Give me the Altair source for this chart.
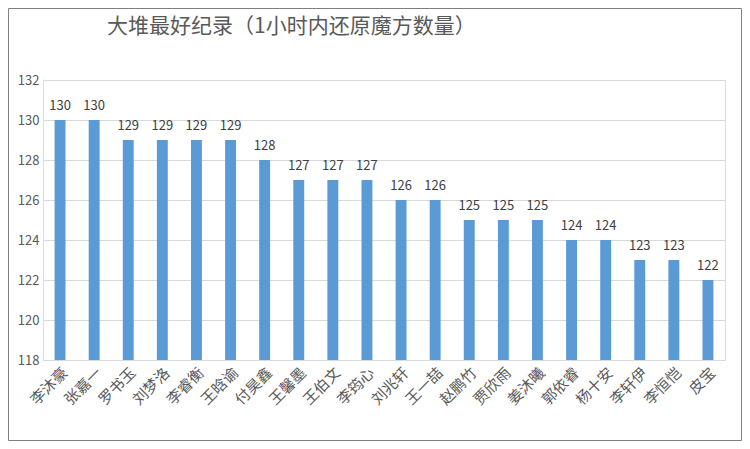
import altair as alt
import pandas as pd

names = ["李沐豪", "张嘉一", "罗书玉", "刘梦洛", "李睿衡", "王晗谕", "付昊鑫", "王馨墨", "王伯文", "李筠心",
         "刘兆轩", "王一喆", "赵鹏竹", "贾欣雨", "姜沐曦", "郭依睿", "杨十安", "李轩伊", "李恒恺", "皮宝"]
values = [130, 130, 129, 129, 129, 129, 128, 127, 127, 127,
          126, 126, 125, 125, 125, 124, 124, 123, 123, 122]
y_ticks = [118, 120, 122, 124, 126, 128, 130, 132]
title_text = "大堆最好纪录（1小时内还原魔方数量）"

df = pd.DataFrame({"name": names, "value": values})

W, H = 682, 280
PL, PT, PR, PB = 35, 72, 17, 81
FONT = "Noto Sans CJK SC"

x = alt.X("name:N", sort=names, title=None,
          scale=alt.Scale(paddingInner=0.68, paddingOuter=0.34),
          axis=alt.Axis(labelAngle=-45, labelFont=FONT, labelFontSize=15, labelColor="#595959",
                        domain=False, ticks=False, labelPadding=5))
y = alt.Y("value:Q", title=None,
          scale=alt.Scale(domain=[118, 132], zero=False, nice=False),
          axis=alt.Axis(values=y_ticks, labelFont=FONT, labelFontSize=13, labelColor="#595959",
                        domain=False, ticks=False, labelPadding=4, gridColor="#D9D9D9", gridWidth=1))

base = alt.Chart(df)
bars = base.mark_bar(color="#5B9BD5").encode(x=x, y=y, y2=alt.datum(118))
labels = base.mark_text(baseline="bottom", dy=-7, font=FONT, fontSize=13, color="#404040").encode(
    x=x, y=y, text="value:Q")

one = pd.DataFrame({"t": [title_text]})
border = alt.Chart(one).mark_rect(
    fill=None, stroke="#7F7F7F", strokeWidth=1, clip=False).encode(
    x=alt.value(-PL + 0.5), x2=alt.value(W + PR - 0.5),
    y=alt.value(-PT + 0.5), y2=alt.value(H + PB - 0.5))
title = alt.Chart(one).mark_text(align="left", baseline="middle", font=FONT, fontSize=21,
                                 color="#595959", clip=False).encode(
    x=alt.value(64), y=alt.value(-53), text="t:N")

chart = alt.layer(border, title, bars, labels).properties(
    width=W, height=H,
    autosize=alt.AutoSizeParams(type="none"),
    padding={"left": PL, "top": PT, "right": PR, "bottom": PB},
).configure_view(stroke=None).configure(background="white")

chart.save("out.html", embed_options={"renderer": "svg", "actions": False})
